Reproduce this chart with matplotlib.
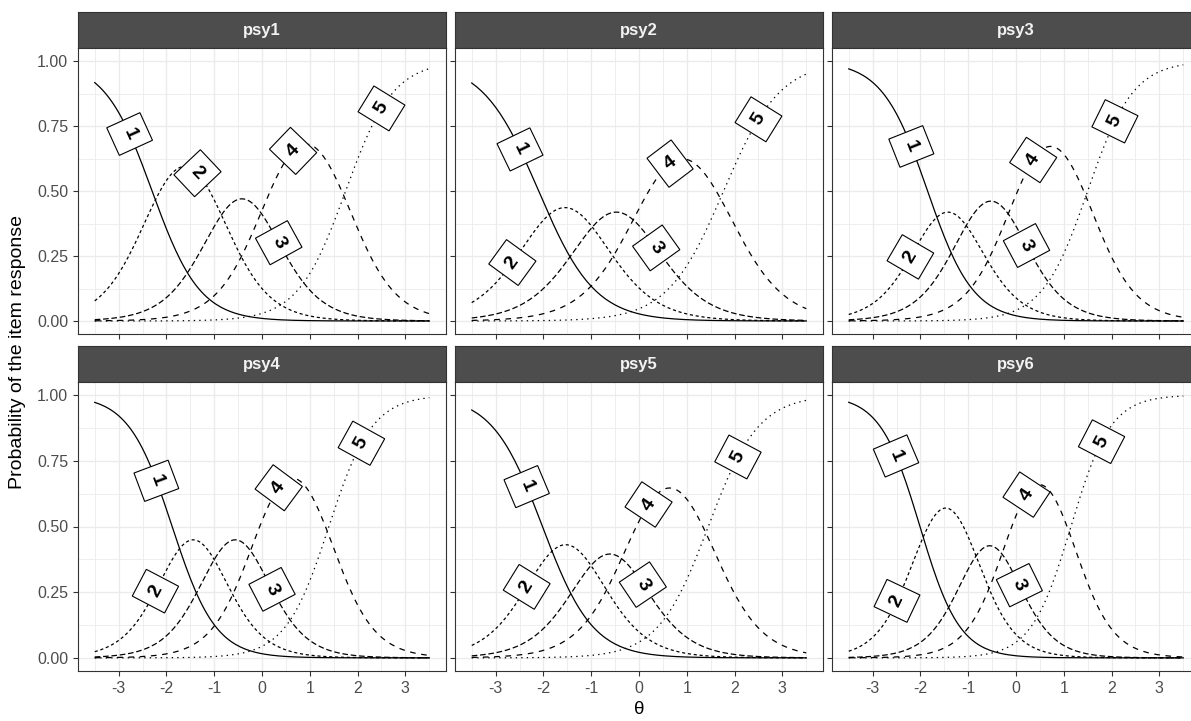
import numpy as np
import matplotlib.pyplot as plt
from matplotlib.ticker import MultipleLocator, FormatStrFormatter

plt.rcParams['font.family'] = ['Liberation Sans', 'DejaVu Sans']
plt.rcParams['axes.unicode_minus'] = False

# graded response model parameters (one row per item)
items = ["psy1", "psy2", "psy3", "psy4", "psy5", "psy6"]
categories = ["1", "2", "3", "4", "5"]
slopes = [2.0, 1.7, 2.1, 2.2, 1.9, 2.4]
thresholds = [
    [-2.30, -0.93, 0.09, 1.75],
    [-2.10, -1.00, 0.05, 1.77],
    [-1.85, -1.00, -0.05, 1.50],
    [-1.88, -1.00, -0.12, 1.40],
    [-2.02, -1.05, -0.17, 1.45],
    [-2.01, -0.93, -0.17, 1.15],
]
# theta where each category label sits on its curve
label_theta = [
    [-2.77, -1.35, 0.35, 0.65, 2.50],
    [-2.49, -2.65, 0.36, 0.65, 2.50],
    [-2.19, -2.21, 0.22, 0.36, 2.07],
    [-2.21, -2.23, 0.21, 0.35, 2.08],
    [-2.35, -2.35, 0.08, 0.20, 2.07],
    [-2.51, -2.49, 0.07, 0.22, 1.79],
]

theta = np.linspace(-3.5, 3.5, 141)


def grm(t, a, b):
    t = np.asarray(t, dtype=float)
    pstar = [np.ones_like(t)] + [1 / (1 + np.exp(-a * (t - bk))) for bk in b] + [np.zeros_like(t)]
    return [pstar[k] - pstar[k + 1] for k in range(len(b) + 1)]


line_styles = ['-', (0, (2.5, 2.2)), (0, (4.5, 2.2)), (0, (4.5, 4.5)), (0, (1.1, 3.3))]

W, H = 1191, 721
fig = plt.figure(figsize=(W / 100, H / 100), dpi=100)

col_left = [78, 455, 832]
panel_w = 368
rows = [(12, 48, 334), (346, 382, 671)]


def frac(x0, y0, x1, y1):
    return [x0 / W, 1 - y1 / H, (x1 - x0) / W, (y1 - y0) / H]


for i, item in enumerate(items):
    r, c = divmod(i, 3)
    top, sbot, pbot = rows[r]
    left = col_left[c]

    # strip
    sax = fig.add_axes(frac(left, top, left + panel_w, sbot))
    sax.set_facecolor('#4D4D4D')
    sax.set_xticks([])
    sax.set_yticks([])
    for sp in sax.spines.values():
        sp.set_color('#333333')
        sp.set_linewidth(0.8)
    sax.text(0.5, 0.5, item, transform=sax.transAxes, ha='center', va='center',
             color='#F2F2F2', fontsize=12, fontweight='bold')

    ax = fig.add_axes(frac(left, sbot, left + panel_w, pbot))
    ax.set_xlim(-3.85, 3.85)
    ax.set_ylim(-0.05, 1.05)
    ax.xaxis.set_major_locator(MultipleLocator(1))
    ax.xaxis.set_minor_locator(MultipleLocator(0.5))
    ax.yaxis.set_major_locator(MultipleLocator(0.25))
    ax.yaxis.set_minor_locator(MultipleLocator(0.125))
    ax.yaxis.set_major_formatter(FormatStrFormatter('%.2f'))
    ax.grid(which='major', color='#EBEBEB', lw=1.0)
    ax.grid(which='minor', color='#EBEBEB', lw=0.6)
    ax.set_axisbelow(True)
    for sp in ax.spines.values():
        sp.set_color('#333333')
        sp.set_linewidth(0.8)
    ax.tick_params(which='major', length=3.5, width=0.8, color='#333333',
                   labelcolor='#4D4D4D', labelsize=11.5, pad=3.5)
    ax.tick_params(which='minor', length=0)
    if c != 0:
        ax.tick_params(axis='y', labelleft=False)
    if r != 1:
        ax.tick_params(axis='x', labelbottom=False)

    probs = grm(theta, slopes[i], thresholds[i])
    for k, cat in enumerate(categories):
        ax.plot(theta, probs[k], color='black', lw=0.9, linestyle=line_styles[k], zorder=3)

        t = label_theta[i][k]
        y = grm([t], slopes[i], thresholds[i])[k][0]
        d = 0.03
        ya = grm([t - d], slopes[i], thresholds[i])[k][0]
        yb = grm([t + d], slopes[i], thresholds[i])[k][0]
        p0 = ax.transData.transform((t - d, ya))
        p1 = ax.transData.transform((t + d, yb))
        ang = np.degrees(np.arctan2(p1[1] - p0[1], p1[0] - p0[0]))
        ax.text(t, y, cat, rotation=ang, rotation_mode='anchor', ha='center', va='center',
                fontsize=14, fontweight='bold', zorder=5,
                bbox=dict(boxstyle='square,pad=0.5', fc='white', ec='black', lw=0.8))

fig.text(639 / W, 1 - 710 / H, 'θ', ha='center', va='center', fontsize=13.5)
fig.text(18 / W, 1 - 352 / H, 'Probability of the item response', ha='center', va='center',
         rotation=90, fontsize=14)

fig.savefig('out.png', dpi=100)
